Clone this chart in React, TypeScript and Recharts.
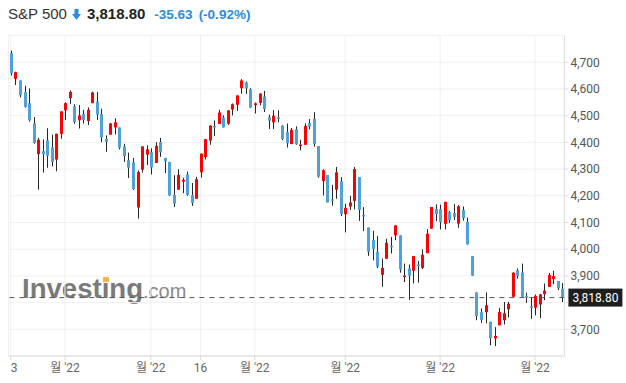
import React from "react";
import {
  ComposedChart,
  Bar,
  XAxis,
  YAxis,
  CartesianGrid,
  ReferenceLine,
} from "recharts";

// S&P 500 daily candles, 13 Jan - 12 Jul 2022
const dates = [
  "01-13", "01-14", "01-18", "01-19", "01-20", "01-21", "01-24", "01-25", "01-26", "01-27", "01-28", "01-31",
  "02-01", "02-02", "02-03", "02-04", "02-07", "02-08", "02-09", "02-10", "02-11", "02-14", "02-15", "02-16",
  "02-17", "02-18", "02-22", "02-23", "02-24", "02-25", "02-28",
  "03-01", "03-02", "03-03", "03-04", "03-07", "03-08", "03-09", "03-10", "03-11", "03-14", "03-15", "03-16",
  "03-17", "03-18", "03-21", "03-22", "03-23", "03-24", "03-25", "03-28", "03-29", "03-30", "03-31",
  "04-01", "04-04", "04-05", "04-06", "04-07", "04-08", "04-11", "04-12", "04-13", "04-14", "04-18", "04-19",
  "04-20", "04-21", "04-22", "04-25", "04-26", "04-27", "04-28", "04-29",
  "05-02", "05-03", "05-04", "05-05", "05-06", "05-09", "05-10", "05-11", "05-12", "05-13", "05-16", "05-17",
  "05-18", "05-19", "05-20", "05-23", "05-24", "05-25", "05-26", "05-27", "05-31",
  "06-01", "06-02", "06-03", "06-06", "06-07", "06-08", "06-09", "06-10", "06-13", "06-14", "06-15", "06-16",
  "06-17", "06-21", "06-22", "06-23", "06-24", "06-27", "06-28", "06-29", "06-30",
  "07-01", "07-05", "07-06", "07-07", "07-08", "07-11", "07-12",
];

const open = [
  4734, 4638, 4632, 4588, 4547, 4471, 4356, 4367, 4408, 4381, 4336, 4432,
  4520, 4566, 4535, 4483, 4506, 4480, 4547, 4553, 4506, 4413, 4429, 4456,
  4456, 4385, 4333, 4325, 4156, 4298, 4354,
  4363, 4323, 4401, 4342, 4327, 4203, 4223, 4253, 4280, 4203, 4189, 4288,
  4345, 4407, 4462, 4469, 4493, 4470, 4523, 4541, 4603, 4624, 4599,
  4540, 4548, 4572, 4494, 4475, 4494, 4463, 4438, 4394, 4449, 4386, 4391,
  4472, 4489, 4386, 4255, 4278, 4187, 4223, 4254,
  4131, 4160, 4181, 4270, 4128, 4081, 4035, 3990, 3904, 3964, 4013, 4052,
  4052, 3899, 3928, 3919, 3943, 3930, 3985, 4077, 4151,
  4150, 4095, 4138, 4135, 4096, 4147, 4102, 3974, 3838, 3764, 3764, 3728,
  3666, 3715, 3734, 3775, 3822, 3921, 3913, 3825, 3786,
  3781, 3793, 3832, 3859, 3888, 3881, 3852,
];

const high = [
  4744, 4665, 4632, 4612, 4602, 4495, 4417, 4411, 4453, 4429, 4433, 4517,
  4550, 4595, 4543, 4540, 4522, 4531, 4590, 4589, 4526, 4426, 4473, 4490,
  4456, 4395, 4362, 4342, 4295, 4385, 4389,
  4378, 4401, 4417, 4342, 4327, 4277, 4299, 4268, 4291, 4248, 4271, 4358,
  4413, 4465, 4482, 4522, 4501, 4521, 4546, 4576, 4637, 4628, 4603,
  4549, 4584, 4593, 4504, 4521, 4520, 4464, 4471, 4454, 4460, 4410, 4471,
  4488, 4513, 4386, 4299, 4278, 4241, 4308, 4270,
  4170, 4200, 4308, 4270, 4158, 4081, 4069, 4049, 3965, 4039, 4046, 4091,
  4052, 3946, 3943, 3975, 3956, 3999, 4075, 4158, 4168,
  4167, 4178, 4143, 4169, 4165, 4160, 4119, 3974, 3838, 3778, 3838, 3728,
  3708, 3780, 3802, 3803, 3914, 3928, 3946, 3837, 3819,
  3830, 3832, 3871, 3911, 3919, 3881, 3873,
];

const low = [
  4650, 4615, 4569, 4530, 4478, 4395, 4223, 4287, 4305, 4310, 4292, 4414,
  4484, 4544, 4470, 4452, 4471, 4465, 4547, 4484, 4401, 4365, 4429, 4430,
  4374, 4327, 4267, 4222, 4115, 4287, 4315,
  4280, 4323, 4346, 4285, 4200, 4158, 4223, 4210, 4200, 4162, 4188, 4268,
  4336, 4391, 4424, 4469, 4456, 4465, 4501, 4518, 4582, 4581, 4530,
  4508, 4539, 4514, 4450, 4450, 4475, 4408, 4381, 4393, 4391, 4370, 4391,
  4449, 4384, 4268, 4201, 4175, 4163, 4189, 4124,
  4063, 4147, 4149, 4106, 4068, 3975, 3958, 3929, 3859, 3964, 3984, 4034,
  3912, 3877, 3810, 3872, 3875, 3925, 3985, 4077, 4105,
  4074, 4074, 4099, 4109, 4080, 4107, 4017, 3900, 3734, 3724, 3722, 3640,
  3637, 3715, 3718, 3744, 3822, 3890, 3820, 3799, 3739,
  3752, 3742, 3809, 3859, 3869, 3847, 3802,
];

const close = [
  4659, 4663, 4577, 4533, 4483, 4398, 4410, 4356, 4350, 4327, 4432, 4516,
  4547, 4589, 4477, 4501, 4484, 4522, 4587, 4504, 4419, 4402, 4471, 4475,
  4380, 4349, 4305, 4226, 4289, 4385, 4374,
  4306, 4387, 4363, 4329, 4201, 4171, 4278, 4260, 4204, 4173, 4262, 4358,
  4412, 4463, 4461, 4512, 4456, 4520, 4543, 4576, 4632, 4602, 4530,
  4546, 4583, 4525, 4481, 4500, 4488, 4413, 4397, 4447, 4393, 4392, 4462,
  4459, 4394, 4272, 4296, 4175, 4184, 4288, 4132,
  4155, 4175, 4300, 4147, 4123, 3991, 4001, 3935, 3930, 4024, 4008, 4089,
  3924, 3901, 3901, 3974, 3941, 3979, 4058, 4158, 4132,
  4101, 4177, 4109, 4121, 4161, 4116, 4018, 3901, 3750, 3735, 3790, 3667,
  3675, 3765, 3760, 3796, 3912, 3900, 3822, 3819, 3785,
  3825, 3831, 3845, 3903, 3899, 3854, 3818.8,
];

const tickDates = ["01-13", "02-01", "03-01", "03-16", "04-01", "05-02", "06-01", "07-01"];
const tickLabels = ["13", "월 '22", "월 '22", "16", "월 '22", "월 '22", "월 '22", "월 '22"];
const priceTicks = [3700, 3800, 3900, 4000, 4100, 4200, 4300, 4400, 4500, 4600, 4700];

const lastPrice = 3818.8;
const change = "-35.63";
const changePct = "(-0.92%)";

const UP = "#ff0000";
const DOWN = "#4ea1db";
const WICK = "#262626";
const GRID = "#f0f0f0";
const AXIS = "#dcdcdc";

const data = dates.map((d, i) => ({
  date: d,
  o: open[i],
  h: high[i],
  l: low[i],
  c: close[i],
  range: [low[i], high[i]],
}));

function Candle(props: any) {
  const { x, y, width, height, payload } = props;
  if (!payload || height == null) return null;
  const { o, h, l, c } = payload;
  const cx = Math.round(x + width / 2) + 0.5;
  const toY = (p: number) => y + ((h - p) / (h - l)) * height;
  const top = toY(Math.max(o, c));
  const bot = toY(Math.min(o, c));
  return (
    <g>
      <line x1={cx} x2={cx} y1={y} y2={y + height} stroke={WICK} strokeWidth={1} />
      <rect
        x={cx - 1.5}
        y={top}
        width={3}
        height={Math.max(bot - top, 1.5)}
        fill={c >= o ? UP : DOWN}
      />
    </g>
  );
}

function XTick(props: any) {
  const { x, y, payload } = props;
  const idx = tickDates.indexOf(payload.value);
  return (
    <text
      x={x}
      y={y + 10}
      textAnchor="middle"
      fontSize={12}
      fill="#666"
      fontFamily="Roboto, 'Noto Sans CJK KR', sans-serif"
      clipPath={idx === 0 ? "url(#leftClip)" : undefined}
    >
      {tickLabels[idx]}
    </text>
  );
}

function PriceTag(props: any) {
  const { viewBox } = props;
  if (!viewBox) return null;
  const x = viewBox.x + viewBox.width + 4;
  const y = viewBox.y;
  return (
    <g>
      <rect x={x} y={y - 9} width={54} height={18} fill="#1e1e1e" />
      <text
        x={x + 27}
        y={y + 4.5}
        textAnchor="middle"
        fontSize={12}
        fill="#fff"
        fontFamily="Roboto, sans-serif"
      >
        {lastPrice.toLocaleString("en-US", { minimumFractionDigits: 2 })}
      </text>
    </g>
  );
}

function DownArrow() {
  return (
    <svg width={9} height={11} style={{ verticalAlign: "-1px", margin: "0 6px 0 5px" }}>
      <rect x={2.5} y={0} width={4} height={5} fill="#2b8ce0" />
      <polygon points="0,5 9,5 4.5,11" fill="#2b8ce0" />
    </svg>
  );
}

export default function App() {
  return (
    <div
      style={{
        position: "absolute",
        left: 0,
        top: 0,
        width: 626,
        height: 383,
        background: "#fff",
        overflow: "hidden",
      }}
    >
      <svg width={626} height={383} style={{ position: "absolute", left: 0, top: 0 }}>
        <defs>
          <clipPath id="leftClip">
            <rect x={9} y={0} width={40} height={383} />
          </clipPath>
        </defs>
        <text
          x={22}
          y={298}
          fontSize={28}
          fontWeight="bold"
          fill="#7a7a7a"
          fontFamily="'Liberation Sans', Arial, sans-serif"
          textLength={121}
          lengthAdjust="spacingAndGlyphs"
        >
          Investıng
        </text>
        <rect x={103} y={277} width={6} height={5} fill="#f5b54a" />
        <text
          x={143}
          y={298}
          fontSize={20}
          fill="#8a8a8a"
          fontFamily="'Liberation Sans', Arial, sans-serif"
        >
          .com
        </text>
      </svg>

      <div
        style={{
          position: "absolute",
          left: 8,
          top: 4,
          lineHeight: "20px",
          fontFamily: "'Liberation Sans', Arial, sans-serif",
          whiteSpace: "nowrap",
        }}
      >
        <span style={{ fontSize: 15, color: "#333" }}>S&amp;P 500</span>
        <DownArrow />
        <span style={{ fontSize: 15, fontWeight: "bold", color: "#222" }}>3,818.80</span>
        <span style={{ fontSize: 13.5, fontWeight: "bold", color: "#2b8ce0", marginLeft: 9 }}>
          {change}
        </span>
        <span style={{ fontSize: 13.5, fontWeight: "bold", color: "#2b8ce0", marginLeft: 6 }}>
          {changePct}
        </span>
      </div>

      <div style={{ position: "absolute", left: 0, top: 0 }}>
        <ComposedChart
          width={626}
          height={383}
          data={data}
          margin={{ top: 35.6, right: 1.6, bottom: 0, left: 8.44 }}
          barCategoryGap={0}
        >
          <CartesianGrid stroke={GRID} strokeWidth={1} />
          <XAxis
            dataKey="date"
            ticks={tickDates}
            interval={0}
            height={27}
            axisLine={{ stroke: AXIS }}
            tickLine={{ stroke: AXIS }}
            tickSize={4}
            tick={<XTick />}
          />
          <YAxis
            orientation="right"
            domain={[3600, 4800]}
            ticks={priceTicks}
            allowDataOverflow
            width={60}
            axisLine={{ stroke: AXIS }}
            tickLine={{ stroke: AXIS }}
            tickSize={4}
            tickMargin={2}
            tick={{ fontSize: 12, fill: "#555", fontFamily: "Roboto, sans-serif" }}
            tickFormatter={(v: number) => (v === 3800 ? "" : v.toLocaleString("en-US"))}
          />
          <ReferenceLine
            y={lastPrice}
            stroke="#555"
            strokeDasharray="5 5"
            label={<PriceTag />}
          />
          <Bar dataKey="range" shape={<Candle />} isAnimationActive={false} />
        </ComposedChart>
      </div>
    </div>
  );
}
